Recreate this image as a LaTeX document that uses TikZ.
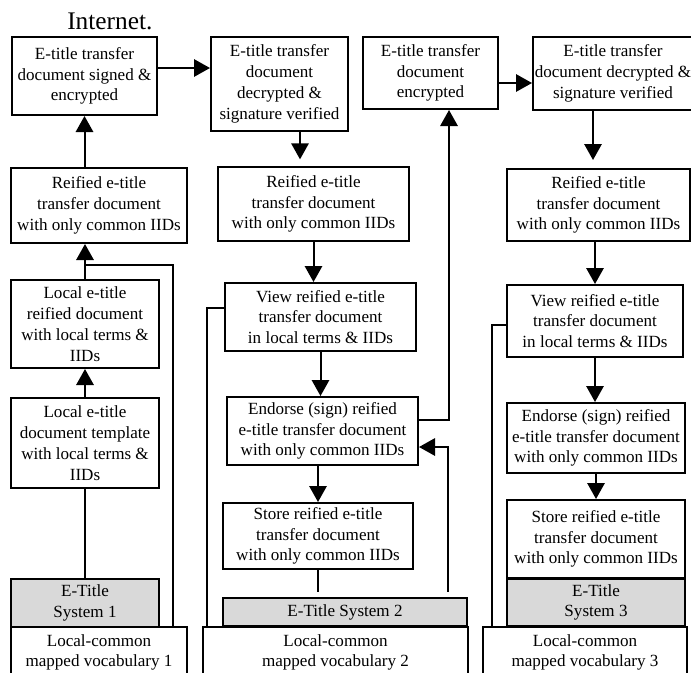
\documentclass[tikz,border=0pt]{standalone}
\usepackage{fontspec}
\setmainfont{Liberation Serif}
\usetikzlibrary{arrows.meta}
\begin{document}
\begin{tikzpicture}[x=0.75pt,y=-0.75pt,
  box/.style={draw, line width=1.5pt, inner sep=0pt, align=center, font=\fontsize{12.8}{15.6}\selectfont},
  gbox/.style={box, fill=black!15},
  sz/.style 2 args={minimum width={#1*0.75pt}, minimum height={#2*0.75pt}},
  arr/.style={line width=1.5pt, -{Triangle[length=12pt,width=13pt]}},
  ln/.style={line width=1.2pt}]
\useasboundingbox (0,0) rectangle (691,672);
\clip (0,0) rectangle (691,672);

\node[anchor=base west, inner sep=0pt, font=\fontsize{19}{22}\selectfont] (inet) at (67,29) {Internet.};

% column 1
\node[box, sz={145}{78}] (b1) at (84.5,76) {E-title transfer\\document signed \&\\encrypted};
\node[box, sz={176}{75}] (b2) at (99,205.5) {Reified e-title\\transfer document\\with only common IIDs};
\node[box, sz={148}{88}] (b3) at (85,324) {Local e-title\\reified document\\with local terms \&\\IIDs};
\node[box, sz={148}{90}] (b4) at (85,443) {Local e-title\\document template\\with local terms \&\\IIDs};
\node[gbox, sz={148}{48}] (ets1) at (85,603) {E-Title\\System 1};
\node[box, sz={176}{51}] (voc1) at (99,652.5) {Local-common\\mapped vocabulary 1};

% column 2
\node[box, sz={137}{94}] (c1) at (279.5,84) {E-title transfer\\document\\decrypted \&\\signature verified};
\node[box, sz={191}{74}] (c3) at (313.5,204) {Reified e-title\\transfer document\\with only common IIDs};
\node[box, sz={191}{68}] (view2) at (320.5,317) {View reified e-title\\transfer document\\in local terms \& IIDs};
\node[box, sz={191}{68}] (end2) at (322.5,431) {Endorse (sign) reified\\e-title transfer document\\with only common IIDs};
\node[box, sz={190}{66}] (store2) at (318,536) {Store reified e-title\\transfer document\\with only common IIDs};
\node[gbox, sz={244}{28}] (ets2) at (345,612) {E-Title System 2};
\node[box, sz={265}{51}] (voc2) at (335.5,652.5) {Local-common\\mapped vocabulary 2};

% column 3
\node[box, sz={135}{72}] (c2) at (430.5,73) {E-title transfer\\document\\encrypted};
\node[box, sz={160}{73}] (c4) at (613,73.5) {E-title transfer\\document decrypted \&\\signature verified};
\node[box, sz={183}{72}] (c5) at (598.5,205) {Reified e-title\\transfer document\\with only common IIDs};
\node[box, sz={176}{72}] (view3) at (595,321) {View reified e-title\\transfer document\\in local terms \& IIDs};
\node[box, sz={178}{70}] (end3) at (596,438) {Endorse (sign) reified\\e-title transfer document\\with only common IIDs};
\node[box, sz={178}{78}] (store3) at (596,539) {Store reified e-title\\transfer document\\with only common IIDs};
\node[gbox, sz={178}{47}] (ets3) at (596,602.5) {E-Title\\System 3};
\node[box, sz={204}{51}] (voc3) at (585,652.5) {Local-common\\mapped vocabulary 3};

% helper coordinates
\coordinate (r1) at (0,68);
\coordinate (r2) at (0,83);
\coordinate (x300) at (300,0);
\coordinate (x593) at (593,0);
\coordinate (j1) at (173,265);
\coordinate (l2) at (207,308);
\coordinate (l3) at (492,325);
\coordinate (k1) at (449,420);
\coordinate (k2) at (448,447);

% column 1 connectors
\draw[arr] (b2.north -| b1.south) -- (b1.south);
\draw[arr] (b3.north) -- (b3.north |- b2.south);
\draw[arr] (b4.north) -- (b3.south);
\draw[ln] (b4.south) -- (ets1.north);
\draw[ln] (voc1.north -| j1) -- (j1) -- (j1 -| b3.north);

% top row
\draw[arr] (b1.east |- r1) -- (c1.west |- r1);
\draw[arr] (c2.east |- r2) -- (c4.west |- r2);

% column 2 connectors
\draw[arr, shorten >=5pt] (c1.south -| x300) -- (c3.north -| x300);
\draw[arr] (c3.south) -- (c3.south |- view2.north);
\draw[arr] (view2.south) -- (view2.south |- end2.north);
\draw[arr] (store2.north |- end2.south) -- (store2.north);
\draw[ln, shorten >=4pt] (store2.south) -- (store2.south |- ets2.north);
\draw[arr, shorten <=4pt] (ets2.north -| k2) -- (k2) -- (k2 -| end2.east);
\draw[arr] (end2.east |- k1) -- (k1) -- (k1 |- c2.south);
\draw[ln] (voc2.north -| l2) -- (l2) -- (l2 -| view2.west);

% column 3 connectors
\draw[arr, shorten >=6pt] (c4.south -| x593) -- (c5.north -| x593);
\draw[arr] (c5.south -| view3.north) -- (view3.north);
\draw[arr] (view3.south) -- (view3.south |- end3.north);
\draw[arr] (end3.south) -- (end3.south |- store3.north);
\draw[ln] (voc3.north -| l3) -- (l3) -- (l3 -| view3.west);
\end{tikzpicture}
\end{document}
